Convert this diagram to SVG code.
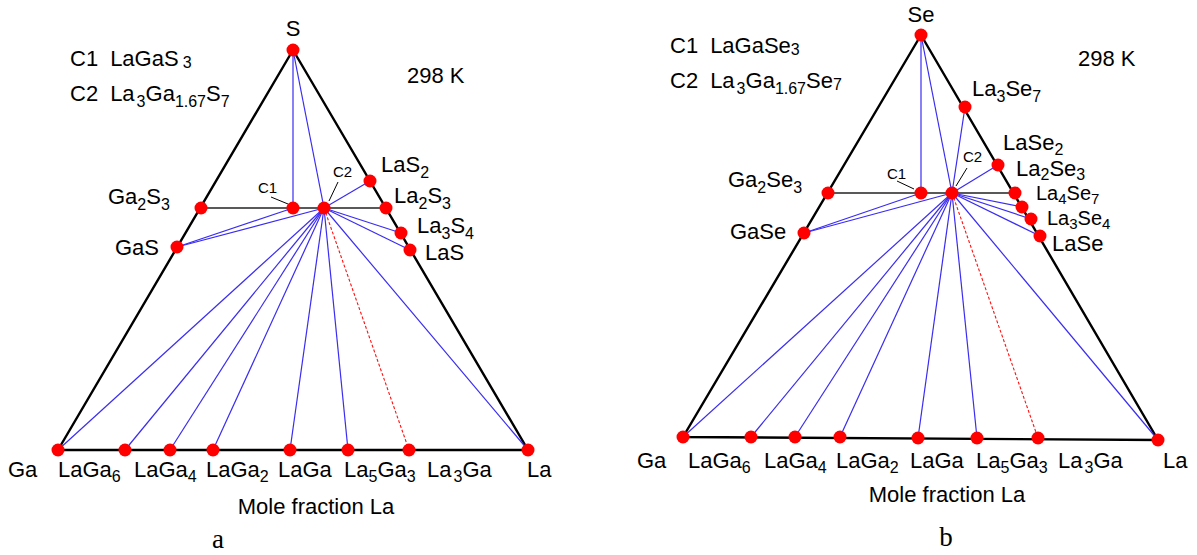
<svg xmlns="http://www.w3.org/2000/svg" width="1197" height="555" viewBox="0 0 1197 555">
<style>
text{font-family:"Liberation Sans",Arial,sans-serif;font-size:22px;fill:#000}
.sm{font-size:15px}
.mid{text-anchor:middle}
.cap{font-family:"Liberation Serif","Times New Roman",serif;font-size:27px}
.sub{font-size:16px}
.edge{stroke:#000;stroke-width:2.4;fill:none}
.hl{stroke:#222;stroke-width:1.6}
.tie{stroke:#3a2cf0;stroke-width:1.2}
.dash{stroke:#ff1010;stroke-width:1.1;stroke-dasharray:3 2}
.lead{stroke:#000;stroke-width:1}
.dot{fill:#ff0000}
</style>
<defs>
<circle id="d" r="6.5" class="dot"/>
</defs>

<!-- ========== Diagram a ========== -->
<g id="frame-a">
<polygon class="edge" points="293,50 58,450 528,450"/>
<line class="hl" x1="201" y1="208" x2="386" y2="208"/>
</g>
<g id="connectors-a">
<line class="tie" x1="293" y1="50" x2="293" y2="208"/>
<line class="tie" x1="293" y1="50" x2="324" y2="208"/>
<line class="tie" x1="324" y1="208" x2="370" y2="181"/>
<line class="tie" x1="324" y1="208" x2="401" y2="233"/>
<line class="tie" x1="324" y1="208" x2="410" y2="250"/>
<line class="tie" x1="177" y1="247" x2="293" y2="208"/>
<line class="tie" x1="177" y1="247" x2="324" y2="208"/>
<line class="tie" x1="324" y1="208" x2="58" y2="450"/>
<line class="tie" x1="324" y1="208" x2="125" y2="450"/>
<line class="tie" x1="324" y1="208" x2="170" y2="450"/>
<line class="tie" x1="324" y1="208" x2="213" y2="450"/>
<line class="tie" x1="324" y1="208" x2="290" y2="450"/>
<line class="tie" x1="324" y1="208" x2="348" y2="450"/>
<line class="dash" x1="324" y1="208" x2="409" y2="450"/>
<line class="tie" x1="324" y1="208" x2="528" y2="450"/>
<line class="lead" x1="271" y1="197" x2="288" y2="204"/>
<line class="lead" x1="329" y1="201" x2="338" y2="182"/>
</g>
<g id="a-S"><use href="#d" x="293" y="50"/><text class="mid" x="293" y="36">S</text></g>
<g id="a-Ga2S3"><use href="#d" x="201" y="208"/><text x="108" y="204">Ga<tspan class="sub" dy="6">2</tspan><tspan dy="-6">S</tspan><tspan class="sub" dy="6">3</tspan></text></g>
<g id="a-GaS"><use href="#d" x="177" y="247"/><text x="115" y="255">GaS</text></g>
<g id="a-C1"><use href="#d" x="293" y="208"/><text class="sm" x="258" y="193">C1</text></g>
<g id="a-C2"><use href="#d" x="324" y="208"/><text class="sm" x="333" y="177">C2</text></g>
<g id="a-LaS2"><use href="#d" x="370" y="181"/><text x="381" y="172">LaS<tspan class="sub" dy="6">2</tspan></text></g>
<g id="a-La2S3"><use href="#d" x="386" y="208"/><text x="394" y="203">La<tspan class="sub" dy="6">2</tspan><tspan dy="-6">S</tspan><tspan class="sub" dy="6">3</tspan></text></g>
<g id="a-La3S4"><use href="#d" x="401" y="233"/><text x="417" y="233">La<tspan class="sub" dy="6">3</tspan><tspan dy="-6">S</tspan><tspan class="sub" dy="6">4</tspan></text></g>
<g id="a-LaS"><use href="#d" x="410" y="250"/><text x="425" y="260">LaS</text></g>
<g id="a-Ga"><use href="#d" x="58" y="450"/><text x="8" y="477">Ga</text></g>
<g id="a-LaGa6"><use href="#d" x="125" y="450"/><text x="58" y="477">LaGa<tspan class="sub" dy="5">6</tspan></text></g>
<g id="a-LaGa4"><use href="#d" x="170" y="450"/><text x="134" y="477">LaGa<tspan class="sub" dy="5">4</tspan></text></g>
<g id="a-LaGa2"><use href="#d" x="213" y="450"/><text x="206" y="477">LaGa<tspan class="sub" dy="5">2</tspan></text></g>
<g id="a-LaGa"><use href="#d" x="290" y="450"/><text x="278" y="477">LaGa</text></g>
<g id="a-La5Ga3"><use href="#d" x="348" y="450"/><text x="344" y="477">La<tspan class="sub" dy="5">5</tspan><tspan dy="-5">Ga</tspan><tspan class="sub" dy="5">3</tspan></text></g>
<g id="a-La3Ga"><use href="#d" x="409" y="450"/><text x="427" y="477">La<tspan class="sub" dx="2" dy="5">3</tspan><tspan dy="-5">Ga</tspan></text></g>
<g id="a-La"><use href="#d" x="528" y="450"/><text x="527" y="477">La</text></g>
<g id="a-texts">
<text x="70" y="66">C1<tspan dx="12">LaGaS</tspan><tspan class="sub" dx="4" dy="2">3</tspan></text>
<text x="70" y="101">C2<tspan dx="12">La</tspan><tspan class="sub" dx="2" dy="6">3</tspan><tspan dy="-6">Ga</tspan><tspan class="sub" dy="6">1.67</tspan><tspan dy="-6">S</tspan><tspan class="sub" dy="6">7</tspan></text>
<text x="407" y="83">298 K</text>
<text class="mid" x="316" y="514">Mole fraction La</text>
<text class="cap mid" x="218" y="548">a</text>
</g>

<!-- ========== Diagram b ========== -->
<g id="frame-b">
<polygon class="edge" points="921,35 683,437 1158,440"/>
<line class="hl" x1="828" y1="193" x2="1015" y2="193"/>
</g>
<g id="connectors-b">
<line class="tie" x1="921" y1="35" x2="921" y2="193"/>
<line class="tie" x1="921" y1="35" x2="952" y2="193"/>
<line class="tie" x1="965" y1="107" x2="952" y2="193"/>
<line class="tie" x1="952" y1="193" x2="998" y2="165"/>
<line class="tie" x1="952" y1="193" x2="1022" y2="207"/>
<line class="tie" x1="952" y1="193" x2="1031" y2="219"/>
<line class="tie" x1="952" y1="193" x2="1040" y2="236"/>
<line class="tie" x1="804" y1="233" x2="921" y2="193"/>
<line class="tie" x1="804" y1="233" x2="952" y2="193"/>
<line class="tie" x1="952" y1="193" x2="683" y2="437"/>
<line class="tie" x1="952" y1="193" x2="751" y2="437"/>
<line class="tie" x1="952" y1="193" x2="795" y2="437"/>
<line class="tie" x1="952" y1="193" x2="840" y2="437"/>
<line class="tie" x1="952" y1="193" x2="918" y2="438"/>
<line class="tie" x1="952" y1="193" x2="977" y2="438"/>
<line class="dash" x1="952" y1="193" x2="1038" y2="438"/>
<line class="tie" x1="952" y1="193" x2="1158" y2="440"/>
<line class="lead" x1="897" y1="181" x2="914" y2="189"/>
<line class="lead" x1="956" y1="186" x2="967" y2="168"/>
</g>
<g id="b-Se"><use href="#d" x="921" y="35"/><text class="mid" x="921" y="22">Se</text></g>
<g id="b-La3Se7"><use href="#d" x="965" y="107"/><text x="972" y="96">La<tspan class="sub" dy="6">3</tspan><tspan dy="-6">Se</tspan><tspan class="sub" dy="6">7</tspan></text></g>
<g id="b-LaSe2"><use href="#d" x="998" y="165"/><text x="1003" y="150">LaSe<tspan class="sub" dy="5">2</tspan></text></g>
<g id="b-La2Se3"><use href="#d" x="1015" y="193"/><text x="1016" y="176">La<tspan class="sub" dy="4">2</tspan><tspan dy="-4">Se</tspan><tspan class="sub" dy="4">3</tspan></text></g>
<g id="b-La4Se7"><use href="#d" x="1022" y="207"/><text x="1036" y="200" style="font-size:20px">La<tspan style="font-size:15px" dy="4">4</tspan><tspan dy="-4">Se</tspan><tspan style="font-size:15px" dy="4">7</tspan></text></g>
<g id="b-La3Se4"><use href="#d" x="1031" y="219"/><text x="1047" y="225" style="font-size:20px">La<tspan style="font-size:15px" dy="4">3</tspan><tspan dy="-4">Se</tspan><tspan style="font-size:15px" dy="4">4</tspan></text></g>
<g id="b-LaSe"><use href="#d" x="1040" y="236"/><text x="1052" y="251">LaSe</text></g>
<g id="b-Ga2Se3"><use href="#d" x="828" y="193"/><text x="728" y="187">Ga<tspan class="sub" dy="6">2</tspan><tspan dy="-6">Se</tspan><tspan class="sub" dy="6">3</tspan></text></g>
<g id="b-GaSe"><use href="#d" x="804" y="233"/><text x="730" y="239">GaSe</text></g>
<g id="b-C1"><use href="#d" x="921" y="193"/><text class="sm" x="887" y="179">C1</text></g>
<g id="b-C2"><use href="#d" x="952" y="193"/><text class="sm" x="963" y="162">C2</text></g>
<g id="b-Ga"><use href="#d" x="683" y="437"/><text x="637" y="468">Ga</text></g>
<g id="b-LaGa6"><use href="#d" x="751" y="437"/><text x="688" y="468">LaGa<tspan class="sub" dy="5">6</tspan></text></g>
<g id="b-LaGa4"><use href="#d" x="795" y="437"/><text x="764" y="468">LaGa<tspan class="sub" dy="5">4</tspan></text></g>
<g id="b-LaGa2"><use href="#d" x="840" y="437"/><text x="836" y="468">LaGa<tspan class="sub" dy="5">2</tspan></text></g>
<g id="b-LaGa"><use href="#d" x="918" y="438"/><text x="910" y="468">LaGa</text></g>
<g id="b-La5Ga3"><use href="#d" x="977" y="438"/><text x="976" y="468">La<tspan class="sub" dy="5">5</tspan><tspan dy="-5">Ga</tspan><tspan class="sub" dy="5">3</tspan></text></g>
<g id="b-La3Ga"><use href="#d" x="1038" y="438"/><text x="1058" y="468">La<tspan class="sub" dx="2" dy="5">3</tspan><tspan dy="-5">Ga</tspan></text></g>
<g id="b-La"><use href="#d" x="1158" y="440"/><text x="1163" y="468">La</text></g>
<g id="b-texts">
<text x="670" y="53">C1<tspan dx="12">LaGaSe</tspan><tspan class="sub" dy="2">3</tspan></text>
<text x="670" y="88">C2<tspan dx="12">La</tspan><tspan class="sub" dx="2" dy="6">3</tspan><tspan dy="-6">Ga</tspan><tspan class="sub" dy="6">1.67</tspan><tspan dy="-6">Se</tspan><tspan class="sub" dy="2">7</tspan></text>
<text x="1078" y="66">298 K</text>
<text class="mid" x="947" y="502">Mole fraction La</text>
<text class="cap mid" x="946" y="546">b</text>
</g>
</svg>
